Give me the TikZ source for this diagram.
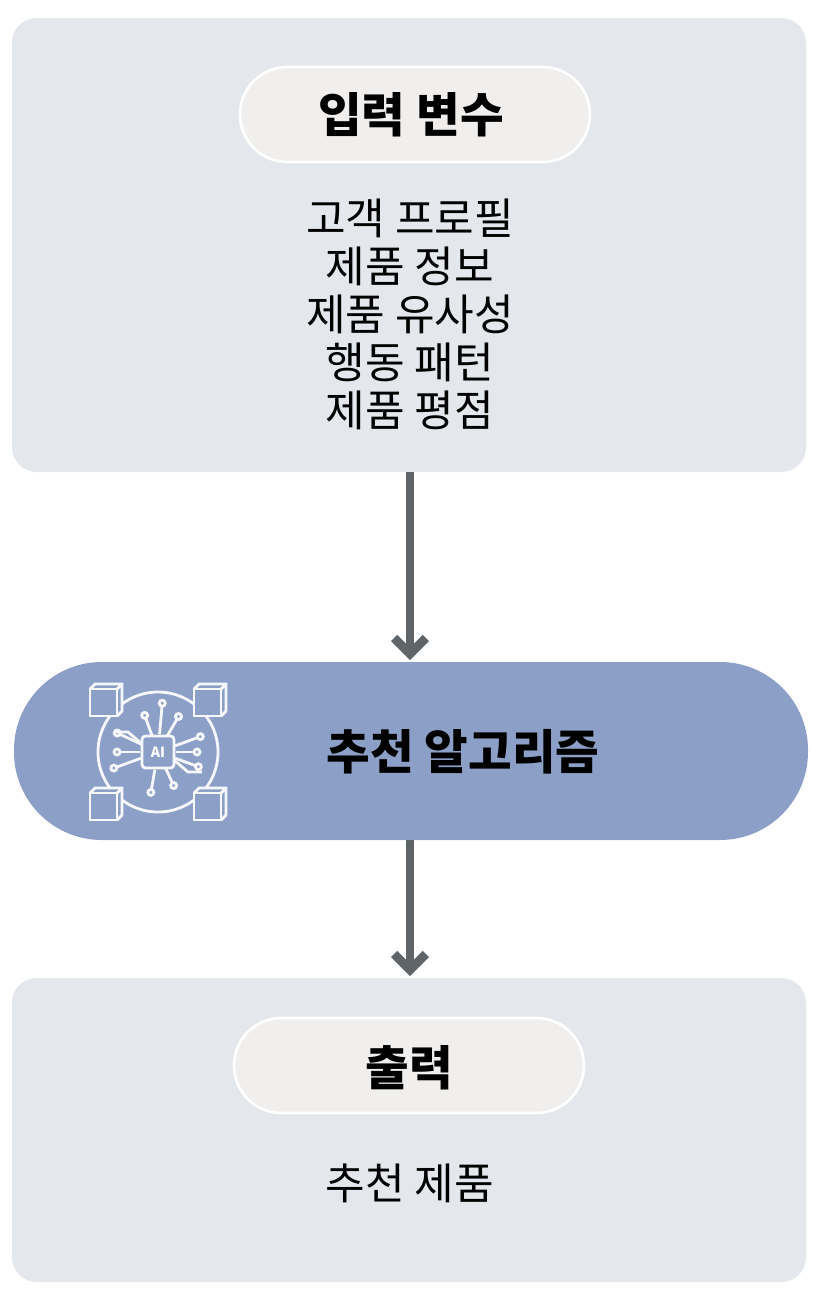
\documentclass[tikz,border=0pt]{standalone}
\usepackage{fontspec}
\setmainfont{Noto Sans CJK KR}
\usetikzlibrary{arrows.meta}
\definecolor{panelgray}{HTML}{E4E7EB}
\definecolor{pillgray}{HTML}{F0EFEE}
\definecolor{algoblue}{HTML}{8C9FC7}
\definecolor{arrowgray}{HTML}{5F6469}

\begin{document}
\begin{tikzpicture}[x=0.02cm,y=-0.02cm,
        panel/.style={fill=panelgray,rounded corners=14pt},
        pill/.style={fill=pillgray,draw=white,line width=1.5pt,rounded corners=27pt},
        title/.style={font=\fontsize{27}{30}\selectfont\bfseries},
        item/.style={font=\fontsize{24.5}{27.3}\selectfont,align=center},
        flow/.style={draw=arrowgray,line width=5pt,-{Straight Barb[length=9pt,width=18pt,line width=5pt]}},
        icon/.style={draw=white!92!algoblue,line width=1.6pt}]
    \useasboundingbox (0,0) rectangle (816,1296);
    % panels
    \fill[panel] (12,18) rectangle (806,472);
    \fill[panel] (12,978) rectangle (806,1282);
    \fill[algoblue,rounded corners=50pt] (14,662) rectangle (808,840);
    \draw[pill] (240,67) rectangle (590,162);
    \draw[pill] (234,1018) rectangle (584,1113);
    % texts
    \node[title] (inTitle) at (411,115) {입력 변수};
    \node[item] (inList) at (410,314) {고객 프로필\\제품 정보\\제품 유사성\\행동 패턴\\제품 평점};
    \node[title] (algo) at (463,752) {추천 알고리즘};
    \node[title] (outTitle) at (409,1068) {출력};
    \node[item] (outList) at (410,1183) {추천 제품};
    % connectors
    \coordinate (inBottom) at (410,472);
    \coordinate (algoTop) at (410,660);
    \coordinate (algoBottom) at (410,840);
    \coordinate (outTop) at (410,976);
    \draw[flow] (inBottom) -- (algoTop);
    \draw[flow] (algoBottom) -- (outTop);
    % AI icon
    \begin{scope}[shift={(158,752)}]
        \draw[icon] (0,0) circle (60);
        \foreach \sx/\sy in {-1/-1,1/-1,-1/1,1/1}{
            \fill[algoblue] (\sx*52-17,\sy*52-17) rectangle (\sx*52+17,\sy*52+17);
            \draw[icon] (\sx*52-16,\sy*52-11) rectangle (\sx*52+11,\sy*52+16);
            \draw[icon] (\sx*52-16,\sy*52-11) -- (\sx*52-11,\sy*52-16) -- (\sx*52+16,\sy*52-16)
                -- (\sx*52+16,\sy*52+11) -- (\sx*52+11,\sy*52+16);
            \draw[icon] (\sx*52+11,\sy*52-11) -- (\sx*52+16,\sy*52-16);
        }
        \draw[icon,rounded corners=2pt] (-16,-16) rectangle (16,16);
        \node[text=white,font=\fontsize{8}{9}\selectfont\bfseries] (chip) at (0,0) {AI};
        % traces
        \foreach \ang/\len in {100/38,65/34,160/44,180/38,205/42,20/40,0/36,-20/42,250/36,275/46,300/38}{
            \draw[icon] (\ang:18) -- (\ang:\len);
            \draw[icon] (\ang:\len+3) circle (3);
        }
        \draw[icon] (-16,-8) -- (-30,-20) -- (-44,-20);
        \draw[icon] (16,8) -- (30,20) -- (44,20);
    \end{scope}
\end{tikzpicture}
\end{document}
